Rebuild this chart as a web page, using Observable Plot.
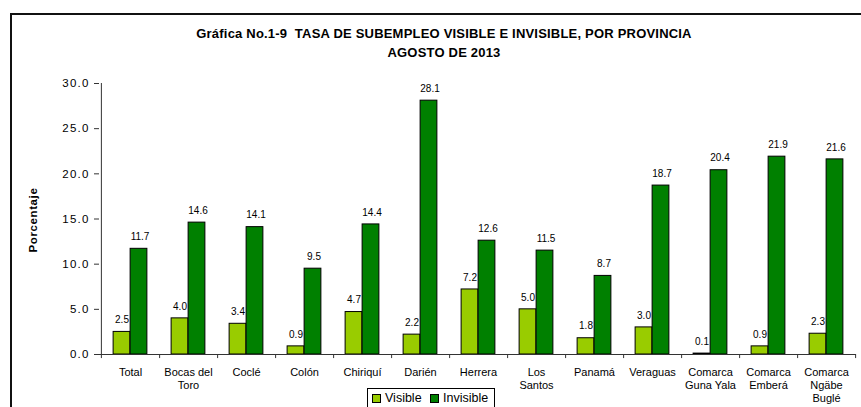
<!DOCTYPE html>
<html>
<head>
<meta charset="utf-8">
<script src="https://cdn.jsdelivr.net/npm/d3@7"></script>
<script src="https://cdn.jsdelivr.net/npm/@observablehq/plot@0.6"></script>
<style>
  html, body { margin: 0; padding: 0; background: #fff; }
  #wrap { position: relative; width: 861px; height: 407px; overflow: hidden; font-family: "Liberation Sans", Arial, sans-serif; }
  #frame { position: absolute; left: 10px; top: 13px; right: -10px; bottom: -10px; border-top: 2px solid #111; border-left: 2px solid #111; }
  #title { position: absolute; left: 0; top: 24px; width: 888px; text-align: center; font-weight: bold; font-size: 13px; line-height: 19px; color: #000; letter-spacing: 0.2px; }
  #ylabel { position: absolute; left: 33px; top: 220px; transform: translate(-50%, -50%) rotate(-90deg); font-weight: bold; font-size: 11.5px; letter-spacing: 0.6px; white-space: nowrap; }
  #chart { position: absolute; left: 0; top: 0; }
  #legend { position: absolute; left: 367px; top: 388px; width: 126px; height: 30px; border: 1px solid #000; background: #fff; font-size: 12.5px; white-space: nowrap; }
  #legend span.sw { display: inline-block; width: 7px; height: 7px; border: 1px solid #000; vertical-align: middle; margin: 0 4px 0 4px; }
  #legend .item { position: absolute; top: 2px; }
  g[aria-label="y-axis tick label"] text { letter-spacing: 1.2px; }
</style>
</head>
<body>
<div id="wrap">
  <div id="frame"></div>
  <div id="chart"></div>
  <div id="title">Gráfica No.1-9&nbsp; TASA DE SUBEMPLEO VISIBLE E INVISIBLE, POR PROVINCIA<br>AGOSTO DE 2013</div>
  <div id="ylabel">Porcentaje</div>
  <div id="legend">
    <span class="item" style="left:0px"><span class="sw" style="background:#99cc00"></span>Visible</span>
    <span class="item" style="left:58px"><span class="sw" style="background:#008000"></span>Invisible</span>
  </div>
</div>
<script>
const categories = ["Total","Bocas del Toro","Coclé","Colón","Chiriquí","Darién","Herrera","Los Santos","Panamá","Veraguas","Comarca Guna Yala","Comarca Emberá","Comarca Ngäbe Buglé"];
const tickLabels = ["Total","Bocas del\nToro","Coclé","Colón","Chiriquí","Darién","Herrera","Los\nSantos","Panamá","Veraguas","Comarca\nGuna Yala","Comarca\nEmberá","Comarca\nNgäbe\nBuglé"];
const visible = [2.5,4.0,3.4,0.9,4.7,2.2,7.2,5.0,1.8,3.0,0.1,0.9,2.3];
const invisible = [11.7,14.6,14.1,9.5,14.4,28.1,12.6,11.5,8.7,18.7,20.4,21.9,21.6];
const yTicks = [0,5,10,15,20,25,30];

const data = categories.map((c, i) => ({cat: c, label: tickLabels[i], visible: visible[i], invisible: invisible[i]}));

const W = 861, H = 407, ML = 99, MR = 5, MT = 83, MB = 53;
const step = (W - ML - MR) / categories.length;
const half = step / 2;
const barW = 17;

const chart = Plot.plot({
  width: W, height: H,
  marginLeft: ML, marginRight: MR, marginTop: MT, marginBottom: MB,
  style: {fontFamily: "'Liberation Sans', Arial, sans-serif", background: "transparent", color: "#000"},
  x: {domain: categories, padding: 0, axis: null},
  y: {domain: [0, 30], axis: null},
  marks: [
    Plot.axisY(yTicks, {tickFormat: d => d.toFixed(1), tickSize: 5, tickPadding: 5, fontSize: 11.5, stroke: "#333"}),
    Plot.barY(data, {x: "cat", y: "visible", fill: "#99cc00", stroke: "#000", strokeWidth: 1, insetLeft: half - barW, insetRight: half}),
    Plot.barY(data, {x: "cat", y: "invisible", fill: "#008000", stroke: "#000", strokeWidth: 1, insetLeft: half, insetRight: half - barW}),
    Plot.ruleY([0], {stroke: "#333"}),
    Plot.ruleX([categories[0]], {dx: -half, y1: -0.45, y2: 30, stroke: "#333"}),
    Plot.ruleX(categories, {x: d => d, dx: half, y1: 0, y2: -0.45, stroke: "#333"}),
    Plot.text(data, {x: "cat", y: "visible", text: d => d.visible.toFixed(1), dx: -barW / 2, dy: -12, fontSize: 10, fill: "#000"}),
    Plot.text(data, {x: "cat", y: "invisible", text: d => d.invisible.toFixed(1), dx: barW / 2 + 1, dy: -12, fontSize: 10, fill: "#000"}),
    Plot.text(data, {x: "cat", y: 0, text: "label", lineAnchor: "top", dy: 12, fontSize: 11, lineHeight: 1.18, fill: "#000"})
  ]
});
document.getElementById("chart").appendChild(chart);
</script>
</body>
</html>
